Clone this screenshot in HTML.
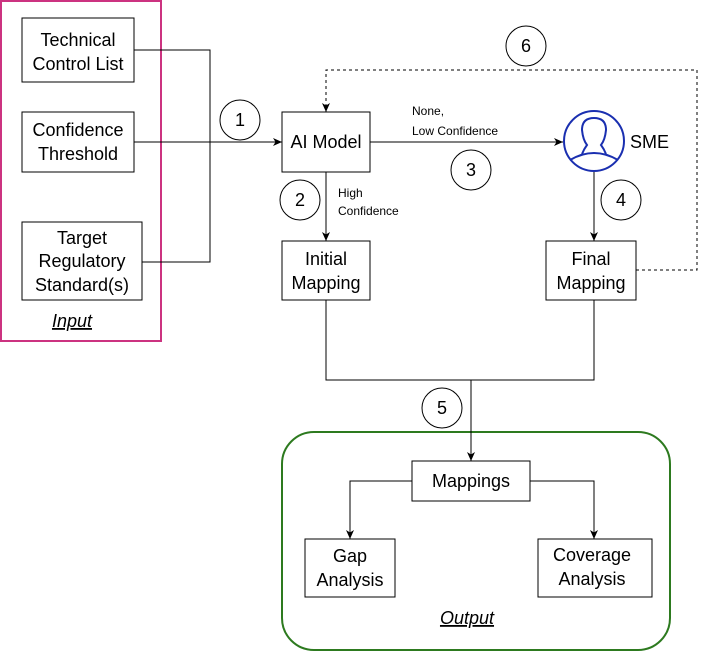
<!DOCTYPE html>
<html><head><style>body{margin:0;background:#fff}svg{display:block}text{font-family:"Liberation Sans",sans-serif;fill:#000}</style></head><body>
<svg width="710" height="652" viewBox="0 0 710 652" xmlns="http://www.w3.org/2000/svg">
<defs><marker id="a" markerWidth="10" markerHeight="10" refX="9" refY="5" orient="auto" markerUnits="userSpaceOnUse"><path d="M0,1 L9,5 L0,9 L2.5,5 Z" fill="#000"/></marker></defs>
<rect x="1" y="1" width="160" height="340" fill="none" stroke="#cc3380" stroke-width="2"/>
<g fill="#fff" stroke="#000" stroke-width="1">
<rect x="22" y="18" width="112" height="64"/>
<rect x="22" y="112" width="112" height="60"/>
<rect x="22" y="222" width="120" height="78"/>
<rect x="282" y="112" width="88" height="60"/>
<rect x="282" y="241" width="88" height="59"/>
<rect x="546" y="241" width="90" height="59"/>
<rect x="412" y="461" width="118" height="40"/>
<rect x="305" y="539" width="90" height="58"/>
<rect x="538" y="539" width="114" height="58"/>
</g>
<rect x="282" y="432" width="388" height="218" rx="32" fill="none" stroke="#2d7a1f" stroke-width="2"/>
<g fill="none" stroke="#000" stroke-width="1">
<polyline points="134,50 210,50 210,262 142,262"/>
<line x1="134" y1="142" x2="282" y2="142" marker-end="url(#a)"/>
<line x1="370" y1="142" x2="563" y2="142" marker-end="url(#a)"/>
<line x1="326" y1="172" x2="326" y2="241" marker-end="url(#a)"/>
<line x1="594" y1="172" x2="594" y2="241" marker-end="url(#a)"/>
<polyline points="636,270 697,270 697,70 326,70 326,112" stroke-dasharray="3,3" marker-end="url(#a)"/>
<polyline points="326,300 326,380 594,380 594,300"/>
<line x1="471" y1="380" x2="471" y2="461" marker-end="url(#a)"/>
<polyline points="412,481 350,481 350,539" marker-end="url(#a)"/>
<polyline points="530,481 594,481 594,539" marker-end="url(#a)"/>
<circle cx="240" cy="120" r="20"/><circle cx="300" cy="200" r="20"/>
<circle cx="471" cy="170" r="20"/><circle cx="621" cy="200" r="20"/>
<circle cx="442" cy="408" r="20"/><circle cx="526" cy="46" r="20"/>
</g>
<g stroke="#1a2fb0" stroke-width="2" fill="none">
<circle cx="594" cy="141" r="30"/>
<path d="M570,160 Q594,146 618,160"/>
<path d="M582,154 Q584,149 587,145 Q583,140 582,130 Q582,118 594,118 Q606,118 606,130 Q605,140 601,145 Q604,149 606,154"/>
</g>
<g font-size="18" text-anchor="middle">
<text x="78" y="46">Technical</text><text x="78" y="70">Control List</text>
<text x="78" y="136">Confidence</text><text x="78" y="160">Threshold</text>
<text x="82" y="244">Target</text><text x="82" y="267">Regulatory</text><text x="82" y="291">Standard(s)</text>
<text x="326" y="148">AI Model</text>
<text x="326" y="265">Initial</text><text x="326" y="289">Mapping</text>
<text x="591" y="265">Final</text><text x="591" y="289">Mapping</text>
<text x="471" y="487">Mappings</text>
<text x="350" y="562">Gap</text><text x="350" y="586">Analysis</text>
<text x="592" y="561">Coverage</text><text x="592" y="585">Analysis</text>
<text x="240" y="126">1</text><text x="300" y="206">2</text><text x="471" y="176">3</text>
<text x="621" y="206">4</text><text x="442" y="414">5</text><text x="526" y="52">6</text>
<text x="72" y="327" font-style="italic" text-decoration="underline">Input</text>
<text x="467" y="624" font-style="italic" text-decoration="underline">Output</text>
</g>
<text x="630" y="148" font-size="18">SME</text>
<g font-size="12"><text x="412" y="115">None,</text><text x="412" y="135">Low Confidence</text>
<text x="338" y="197">High</text><text x="338" y="215">Confidence</text></g>
</svg>
</body></html>
